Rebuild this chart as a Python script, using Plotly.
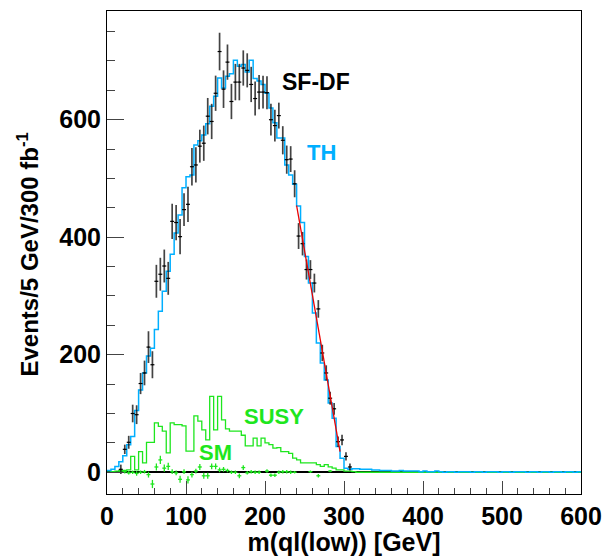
import numpy as np
import plotly.graph_objects as go

# ---- data ----
bin_width = 5
bin_edges = list(range(0, 605, 5))  # 0..600

th_values = [3, 5, 10, 18, 28, 47, 61, 105, 140, 169,
             198, 211, 243, 274, 308, 342, 371, 407, 438, 484,
             503, 506, 557, 564, 574, 593, 623, 640, 671, 654,
             674, 678, 701, 691, 694, 681, 701, 670, 666, 660,
             645, 620, 595, 569, 569, 523, 506, 490, 453, 425,
             367, 322, 271, 220, 186, 157, 118, 92, 44, 24,
             7, 5, 6, 6, 5, 5, 5, 4, 4, 3,
             3, 3, 2, 2, 3, 2, 2, 2, 2, 1,
             2, 1, 1, 2, 1, 0, 1, 1, 0, 1,
             1, 1, 0, 1, 1, 0, 1, 1, 1, 0,
             1, 1, 0, 1, 1, 1, 0, 1, 1, 0,
             1, 1, 0, 1, 1, 0, 1, 1, 0, 1]

susy_values = [0, 1, 2, 3, 3, 4, 27, 4, 35, 16,
               51, 51, 84, 78, 70, 33, 84, 81, 81, 79,
               36, 36, 96, 87, 72, 55, 129, 72, 129, 89,
               74, 70, 70, 70, 63, 45, 45, 58, 45, 58,
               50, 47, 41, 42, 35, 35, 32, 24, 21, 16,
               16, 16, 16, 13, 10, 13, 9, 7, 4, 4,
               2, 2, 1] + [0] * 57

sfdf_x = [17.5, 22.5, 27.5, 32.5, 37.5, 42.5, 47.5, 52.5, 57.5, 62.5,
          67.5, 72.5, 77.5, 82.5, 87.5, 92.5, 97.5, 102.5, 107.5, 112.5,
          117.5, 122.5, 127.5, 132.5, 137.5, 142.5, 147.5, 152.5, 157.5, 162.5,
          167.5, 172.5, 177.5, 182.5, 187.5, 192.5, 197.5, 202.5, 207.5, 212.5,
          217.5, 222.5, 227.5, 232.5, 237.5, 242.5, 247.5, 252.5, 257.5, 262.5,
          267.5, 272.5, 277.5, 282.5, 287.5, 292.5, 297.5, 302.5, 307.5]
sfdf_y = [5, 39, 51, 100, 98, 151, 169, 213, 183, 325,
          337, 351, 330, 427, 425, 401, 447, 456, 520, 523,
          555, 560, 606, 597, 645, 716, 652, 698, 631, 664,
          664, 688, 684, 660, 636, 647, 647, 646, 600, 590,
          607, 565, 532, 533, 491, 402, 389, 345, 345, 322,
          278, 203, 169, 126, 108, 52, 55, 27, 9]
sfdf_err = [8, 8, 11, 15, 16, 18, 21, 27, 23, 28,
            28, 28, 28, 30, 30, 30, 28, 30, 32, 30,
            28, 30, 31, 30, 30, 32, 32, 30, 30, 31,
            31, 30, 29, 30, 29, 29, 28, 28, 27, 27,
            22, 24, 24, 22, 23, 22, 20, 17, 16, 16,
            15, 14, 13, 11, 10, 9, 9, 7, 6]

sm_x = [17.5, 22.5, 27.5, 32.5, 37.5, 42.5, 47.5, 52.5, 57.5, 62.5,
        67.5, 72.5, 77.5, 82.5, 87.5, 92.5, 97.5, 102.5, 107.5, 112.5,
        117.5, 122.5, 127.5, 132.5, 137.5, 142.5, 147.5, 152.5, 157.5, 162.5,
        167.5, 172.5, 177.5, 182.5, 187.5, 192.5, 202.5, 207.5, 212.5, 217.5,
        222.5, 227.5, 232.5, 237.5, 257.5, 267.5, 282.5]
sm_y = [2, 1, -1, 0, -2, 0, 1, -4, -20, 9,
        21, 7, 10, 1, -1, -12, 1, -13, -4, 2,
        9, -6, -6, 10, 10, 4, 5, 3, 0, 0,
        -6, 8, -1, 1, 0, 0, 2, -5, -5, 0,
        1, 1, 0, 0, 1, -6, 2]
sm_err = [3, 3, 3, 3, 4, 3, 3, 5, 7, 6,
          7, 6, 6, 4, 4, 6, 4, 6, 5, 4,
          5, 5, 5, 5, 5, 4, 4, 3, 3, 3,
          4, 4, 3, 3, 3, 3, 3, 3, 3, 3,
          3, 3, 3, 2, 2, 3, 2]

fit_x = [240, 295]
fit_y = [454, 35]

x_tick_vals = [0, 100, 200, 300, 400, 500, 600]
y_tick_vals = [0, 200, 400, 600]

# ---- styles ----
TH_COL = "rgb(0,175,255)"
GREEN = "rgb(30,230,30)"
FONT = "Liberation Sans"

fig = go.Figure()


def step_xy(values):
    xs = bin_edges[:-1] + [bin_edges[-1]]
    ys = list(values) + [values[-1]]
    return xs, ys


sx, sy = step_xy(susy_values)
fig.add_trace(go.Scatter(x=sx, y=sy, mode="lines", line=dict(color=GREEN, width=1.3, shape="hv"),
                         hoverinfo="skip", showlegend=False))

tx, ty = step_xy(th_values)
fig.add_trace(go.Scatter(x=tx, y=ty, mode="lines", line=dict(color=TH_COL, width=1.5, shape="hv"),
                         hoverinfo="skip", showlegend=False))

fig.add_trace(go.Scatter(
    x=sm_x, y=sm_y, mode="markers", marker=dict(size=1, color=GREEN),
    error_y=dict(type="data", array=sm_err, color=GREEN, thickness=1.3, width=0),
    error_x=dict(type="constant", value=bin_width / 2, color=GREEN, thickness=1.3, width=0),
    showlegend=False))

fig.add_trace(go.Scatter(
    x=sfdf_x, y=sfdf_y, mode="markers", marker=dict(size=1, color="black"),
    error_y=dict(type="data", array=sfdf_err, color="rgba(20,20,20,0.8)", thickness=1.7, width=0),
    error_x=dict(type="constant", value=bin_width / 2, color="black", thickness=1.2, width=0),
    showlegend=False))

fig.add_trace(go.Scatter(x=fit_x, y=fit_y, mode="lines", line=dict(color="rgb(235,0,0)", width=1.3),
                         showlegend=False))

ann_font = dict(family=FONT, size=22, weight="bold")
fig.add_annotation(x=219, y=665, text="SF-DF", showarrow=False, xanchor="left", yanchor="middle",
                   font=dict(ann_font, color="black", size=23))
fig.add_annotation(x=250, y=545, text="TH", showarrow=False, xanchor="left", yanchor="middle",
                   font=dict(ann_font, color=TH_COL))
fig.add_annotation(x=171, y=95, text="SUSY", showarrow=False, xanchor="left", yanchor="middle",
                   font=dict(ann_font, color=GREEN))
fig.add_annotation(x=114, y=33, text="SM", showarrow=False, xanchor="left", yanchor="middle",
                   font=dict(ann_font, color=GREEN))
# y-axis title
fig.add_annotation(x=0, y=0.5, xref="paper", yref="paper", xshift=-80, yshift=-2,
                   text="Events/5 GeV/300 fb<sup>-1</sup>",
                   textangle=-90, showarrow=False, xanchor="center", yanchor="middle",
                   font=dict(family=FONT, size=24, weight="bold", color="black"))

tick_font = dict(family=FONT, size=25, color="black", weight="bold")
fig.update_layout(
    width=603, height=556,
    margin=dict(l=107, r=22, t=11, b=62),
    paper_bgcolor="white", plot_bgcolor="white",
    font=dict(family=FONT, color="black"),
    xaxis=dict(range=[0, 600], tickvals=x_tick_vals, ticks="inside", ticklen=13, tickwidth=1,
               tickcolor="#444", showline=True, linecolor="black", linewidth=1, mirror=True,
               showgrid=False, zeroline=False, tickfont=tick_font, automargin=False,
               minor=dict(dtick=20, ticks="inside", ticklen=6, tickcolor="#444", showgrid=False),
               title=dict(text="m(ql(low)) [GeV]", font=dict(family=FONT, size=25, weight="bold"))),
    yaxis=dict(range=[-37, 785], tickvals=y_tick_vals, ticks="inside", ticklen=17, tickwidth=1,
               tickcolor="#444", showline=True, linecolor="black", linewidth=1, mirror=True,
               showgrid=False, zeroline=True, zerolinecolor="black", zerolinewidth=1.5,
               tickfont=tick_font, automargin=False,
               minor=dict(dtick=50, ticks="inside", ticklen=8, tickcolor="#444", showgrid=False)),
)

fig.write_html("out.html", config={"displayModeBar": False},
               post_script="document.body.style.margin='0';")
